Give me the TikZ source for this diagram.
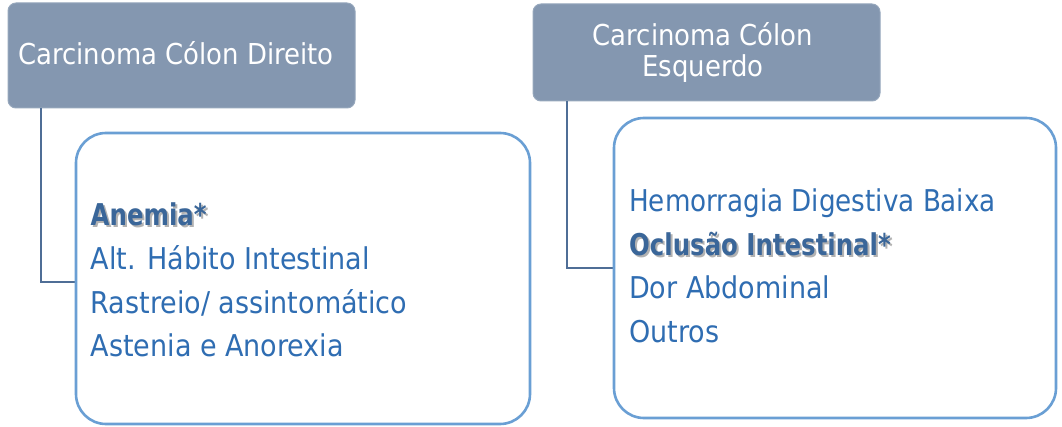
\documentclass[tikz,border=0pt]{standalone}
\usepackage{graphicx}
\usepackage{fontspec}
\setmainfont{DejaVu Sans Condensed}
\definecolor{headfill}{HTML}{8497B0}
\definecolor{linkcol}{HTML}{4F6E96}
\definecolor{boxline}{HTML}{6A9FD4}
\definecolor{txtblue}{HTML}{2F6DB2}
\definecolor{boldblue}{HTML}{3A6699}
\newcommand{\narrowbold}[1]{\scalebox{0.905}[1]{#1}}
\tikzset{
  x=1pt,y=-1pt,
  headbox/.style={draw=headfill!85!white,fill=headfill,rounded corners=8pt,line width=1pt},
  listbox/.style={draw=boxline,rounded corners=30pt,line width=2.6pt,fill=white},
  link/.style={draw=linkcol,line width=2.8pt},
  headtxt/.style={text=white,font=\fontsize{28.8}{34}\selectfont,inner sep=0pt},
  item/.style={text=txtblue,font=\fontsize{30}{36}\selectfont,anchor=base west,inner sep=0pt},
  bolditem/.style={text=boldblue,font=\fontsize{30}{36}\selectfont\bfseries,anchor=base west,inner sep=0pt},
  shade/.style={text=black!30,font=\fontsize{30}{36}\selectfont\bfseries,anchor=base west,inner sep=0pt},
}
\begin{document}
\begin{tikzpicture}
\useasboundingbox (0,0) rectangle (1062,427);
% connector corners
\coordinate (c1) at (41,282);
\coordinate (c2) at (567,268);
% header boxes
\path[headbox] (8,3) rectangle (355,108);
\node[inner sep=0pt,minimum size=0pt] (h1) at (41,108) {};
\path[headbox] (533,4) rectangle (880,101);
\node[inner sep=0pt,minimum size=0pt] (h2) at (567,101) {};
% connectors
\draw[link] (h1.center) -- (c1) -- (76,282);
\draw[link] (h2.center) -- (c2) -- (614,268);
% list boxes
\path[listbox] (76,133) rectangle (530,424);
\path[listbox] (614,118) rectangle (1056,418);
% header texts
\node[headtxt,anchor=base] (t1) at (176,65) {Carcinoma Cólon Direito};
\node[headtxt,anchor=base] (t2a) at (703,46) {Carcinoma Cólon};
\node[headtxt,anchor=base] (t2b) at (703,77) {Esquerdo};
% left list
\node[shade] at (92.5,228) {\narrowbold{Anemia*}};
\node[bolditem] (l1) at (90.5,226) {\narrowbold{Anemia*}};
\node[item] (l2) at (90.5,270) {Alt. Hábito Intestinal};
\node[item] (l3) at (90.5,313) {Rastreio/ assintomático};
\node[item] (l4) at (90.5,356) {Astenia e Anorexia};
% right list
\node[item] (r1) at (629,212) {\scalebox{0.97}[1]{Hemorragia Digestiva Baixa}};
\node[shade] at (631,258) {\narrowbold{Oclusão Intestinal*}};
\node[bolditem] (r2) at (629,256) {\narrowbold{Oclusão Intestinal*}};
\node[item] (r3) at (629,299) {Dor Abdominal};
\node[item] (r4) at (629,342) {Outros};
\end{tikzpicture}
\end{document}
